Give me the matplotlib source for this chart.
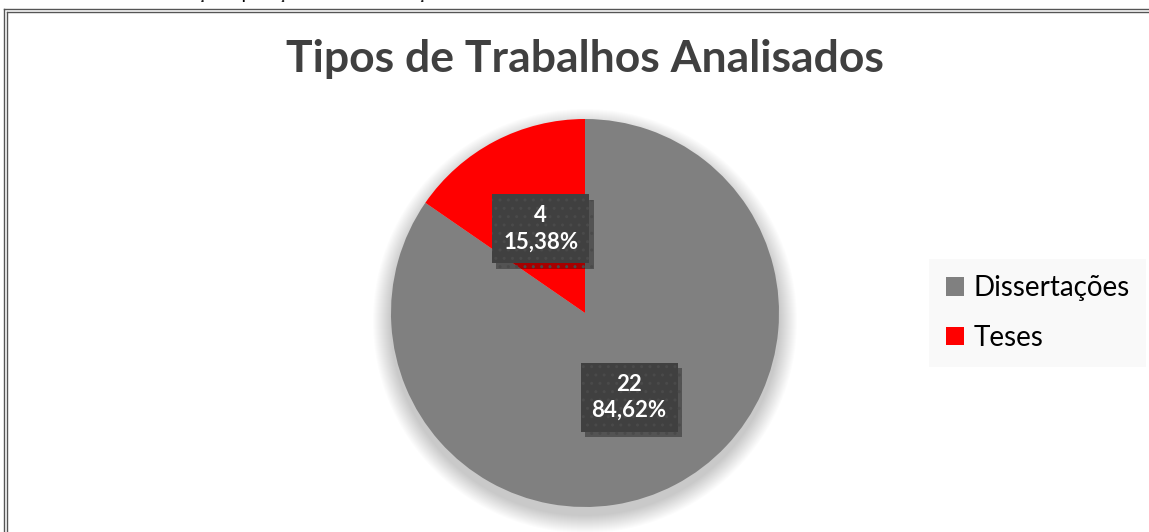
import matplotlib.pyplot as plt
import matplotlib.patheffects as pe
from matplotlib.patches import Circle
from matplotlib.lines import Line2D

plt.rcParams['font.family'] = ['Lato', 'DejaVu Sans']
plt.rcParams['hatch.color'] = '#555555'
plt.rcParams['hatch.linewidth'] = 1.0

categories = ['Dissertações', 'Teses']
counts = [22, 4]
colors = ['#808080', '#FF0000']
title = 'Tipos de Trabalhos Analisados'
caption = 'Gráfico 1: Resultado da distribuição da produção de teses e dissertações'

W, H = 1149, 532
fig = plt.figure(figsize=(W / 100, H / 100), dpi=100)
ax = fig.add_axes([0, 0, 1, 1])

cx, cy, R = 585, H - 313, 194
total = sum(counts)

# soft shadow under the pie
for k in range(18):
    ax.add_patch(Circle((cx, cy - 8), R + 18 - k, color='black', alpha=0.010, lw=0, zorder=1))

wedges, texts, autotexts = ax.pie(
    counts, colors=colors, startangle=90, counterclock=False,
    center=(cx, cy), radius=R, pctdistance=0.49,
    autopct=lambda p: f'{round(p * total / 100)}\n{p:.2f}%'.replace('.', ','),
    textprops=dict(color='white', fontsize=16, fontweight='bold'),
    wedgeprops=dict(linewidth=0, zorder=2))

for t in autotexts:
    t.set_linespacing(1.3)
    t.set_zorder(5)
    t.set_bbox(dict(boxstyle='square,pad=0.5', fc='#404040', ec='#4a4a4a', lw=0, hatch='..'))
    t.get_bbox_patch().set_path_effects(
        [pe.SimplePatchShadow(offset=(3, -4), shadow_rgbFace='black', alpha=0.35), pe.Normal()])

ax.set_xlim(0, W)
ax.set_ylim(0, H)
ax.set_axis_off()

ax.text(585, H - 59, title, ha='center', va='center', fontsize=32, fontweight='bold', color='#404040')

leg = ax.legend(wedges, categories, loc='center left', bbox_to_anchor=(929 / W, 1 - 313 / H),
                bbox_transform=fig.transFigure, frameon=True, fontsize=20, handlelength=0.65,
                handleheight=0.65, handletextpad=0.35, labelspacing=0.85, borderpad=0.6,
                borderaxespad=0, fancybox=False)
leg.get_frame().set_facecolor('#F8F8F8')
leg.get_frame().set_edgecolor('none')

# frame border (double line on left and top)
for off in (4, 7):
    fig.add_artist(Line2D([off / W, off / W], [0, 1 - (off + 5) / H], transform=fig.transFigure,
                          color='#555555', lw=1))
    fig.add_artist(Line2D([off / W, 1], [1 - (off + 5) / H, 1 - (off + 5) / H],
                          transform=fig.transFigure, color='#555555', lw=1))

# caption above the frame, cut off at the top edge
fig.text(0, 1 + 0.5 / H, caption, ha='left', va='baseline', fontsize=10, fontweight='bold', color='black')

fig.savefig('out.png', dpi=100, facecolor='white')
